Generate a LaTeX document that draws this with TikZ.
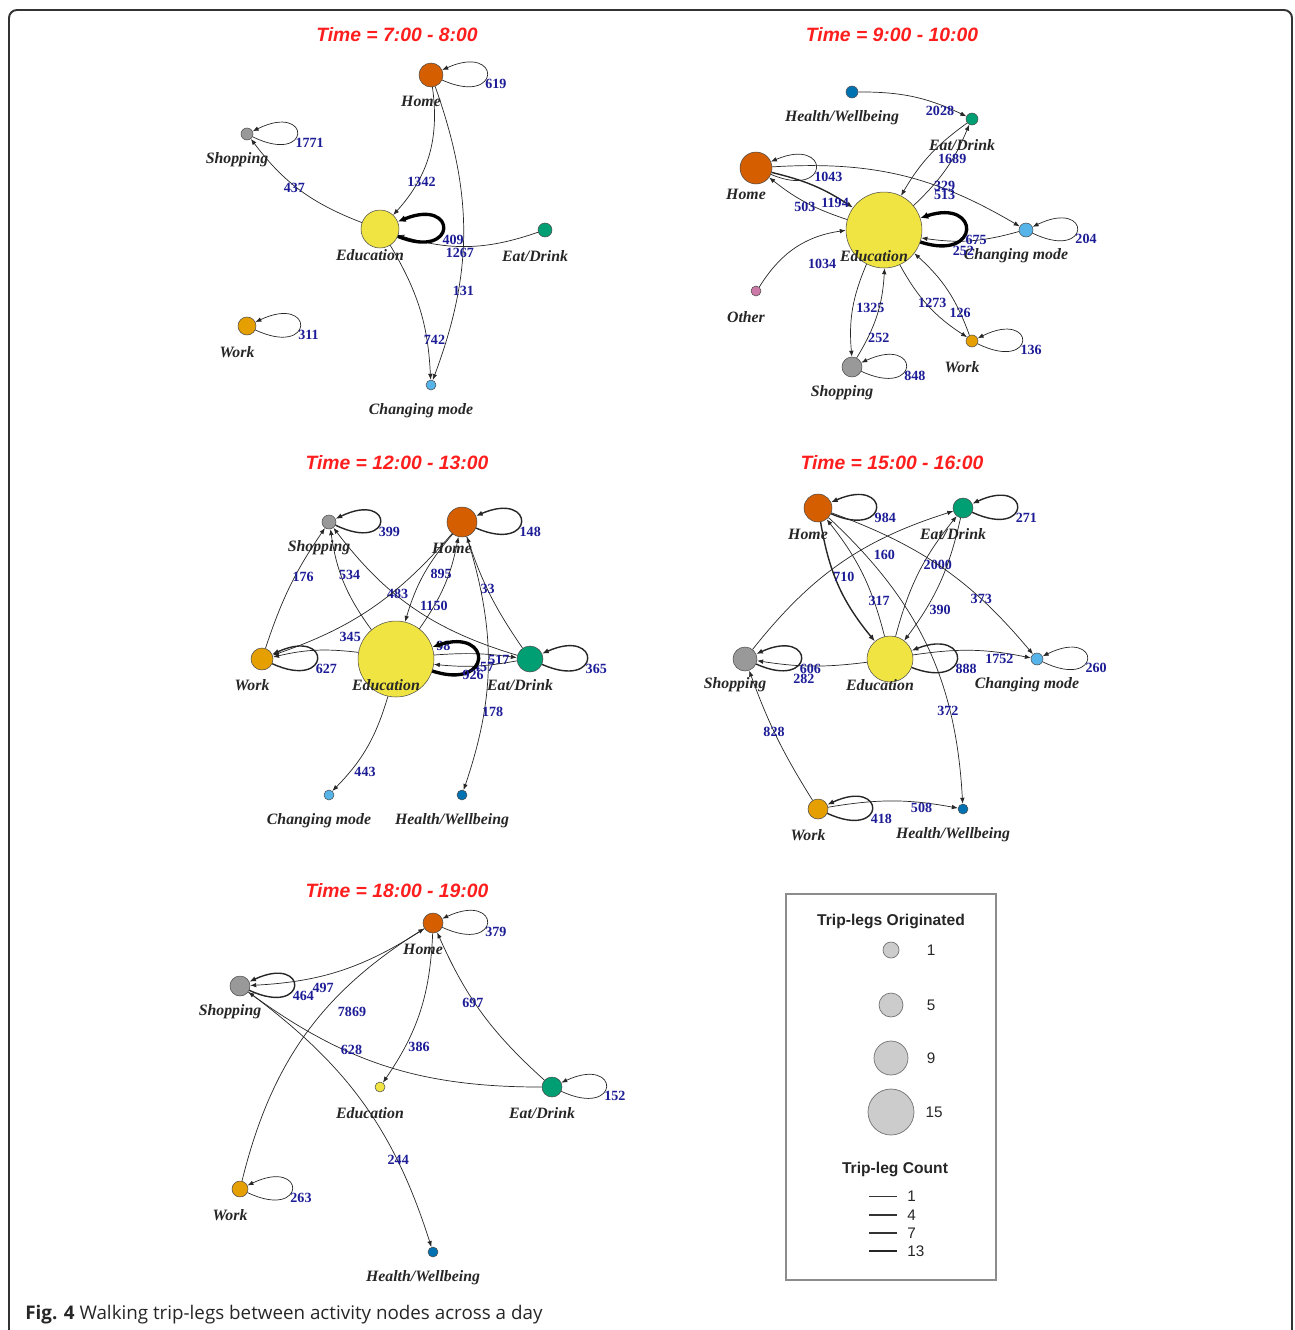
\documentclass[tikz,border=0pt]{standalone}
\usepackage{fontspec}
\usetikzlibrary{arrows.meta}
\newfontfamily\netfont{Liberation Serif}
\newfontfamily\ttlfont{Liberation Sans}
\newfontfamily\capfont{Open Sans}
\definecolor{homec}{HTML}{D55E00}
\definecolor{shopc}{HTML}{999999}
\definecolor{educ}{HTML}{F0E442}
\definecolor{eatc}{HTML}{009E73}
\definecolor{workc}{HTML}{E69F00}
\definecolor{chgc}{HTML}{56B4E9}
\definecolor{hwc}{HTML}{0072B2}
\definecolor{othc}{HTML}{CC79A7}
\definecolor{numc}{RGB}{28,28,150}
\definecolor{ttlc}{RGB}{255,30,30}
% self loop: [style]{node}{reach}{count}
\newcommand{\actloop}[4][tl]{%
  \draw[#1] (#2) .. controls +(#3,32) and +(#3,-32) .. (#2)
    node[num, pos=0.5, anchor=north west, shift={(-2,4)}] {#4};}
\begin{document}
\begin{tikzpicture}[
    x=0.02cm, y=-0.02cm,
    act/.style 2 args={circle, draw=black!70, line width=0.3pt, fill=#2, inner sep=0pt, minimum size=#1*0.04cm},
    lab/.style={font=\netfont\bfseries\itshape\fontsize{9}{10}\selectfont, text=black!85, inner sep=0pt, xshift=-0.2cm, yshift=-0.52cm},
    num/.style={font=\netfont\bfseries\fontsize{8}{9}\selectfont, text=numc, inner sep=0pt},
    ttl/.style={font=\ttlfont\bfseries\itshape\fontsize{11}{13}\selectfont, text=ttlc},
    tl/.style={draw=black!85, line width=0.4pt, -{Latex[length=3.4pt,width=2.6pt]}},
    ml/.style={draw=black!85, line width=0.8pt, -{Latex[length=3.8pt,width=3pt]}},
    kl/.style={draw=black, line width=1.9pt, -{Latex[length=4.5pt,width=4pt]}},
    lgc/.style={circle, draw=black!55, line width=0.4pt, fill=black!20, inner sep=0pt, minimum size=#1*0.04cm},
    lgt/.style={font=\ttlfont\bfseries\fontsize{8.9}{10}\selectfont, text=black!85},
    lgn/.style={font=\ttlfont\fontsize{8.7}{10}\selectfont, text=black!85, inner sep=0pt}
]
\useasboundingbox (0,0) rectangle (1295,1330);
\draw[black!80, line width=1.1pt, rounded corners=4.5pt] (9,1345) -- (9,10) -- (1292,10) -- (1292,1345);

% Time = 7:00 - 8:00
\node[ttl] (t1) at (397,35) {Time = 7:00 - 8:00};
\node[act={12}{homec}, label={[lab]center:Home}] (p1home) at (431,75) {};
\node[act={6}{shopc}, label={[lab]center:Shopping}] (p1shop) at (247,134) {};
\node[act={19}{educ}, label={[lab]center:Education}] (p1edu) at (380,229) {};
\node[act={7}{eatc}, label={[lab]center:Eat/Drink}] (p1eat) at (545,230) {};
\node[act={9}{workc}, label={[lab]center:Work}] (p1work) at (247,326) {};
\node[act={5}{chgc}, label={[lab]center:Changing mode}] (p1chg) at (431,385) {};
\draw[tl] (p1home) to[bend left=25] node[num, pos=0.65, shift={(0,8)}] {1342} (p1edu);
\draw[tl] (p1edu) to[bend left=16] node[num, pos=0.6, shift={(5,6)}] {437} (p1shop);
\draw[tl] (p1home) to[bend left=20] node[num, pos=0.7, shift={(5,1)}] {131} (p1chg);
\draw[tl] (p1edu) to[bend left=14] node[num, pos=0.72, shift={(8,2)}] {742} (p1chg);
\draw[tl] (p1eat) to[bend left=18] node[num, pos=0.55, shift={(-2,7)}] {1267} (p1edu);
\actloop{p1home}{71}{619}
\actloop{p1shop}{65}{1771}
\actloop[kl]{p1edu}{78}{409}
\actloop{p1work}{68}{311}

% Time = 9:00 - 10:00
\node[ttl] (t2) at (892,35) {Time = 9:00 - 10:00};
\node[act={6}{hwc}, label={[lab]center:Health/Wellbeing}] (p2hw) at (852,92) {};
\node[act={6}{eatc}, label={[lab]center:Eat/Drink}] (p2eat) at (972,119) {};
\node[act={16}{homec}, label={[lab]center:Home}] (p2home) at (756,168) {};
\node[act={38}{educ}, label={[lab]center:Education}] (p2edu) at (884,230) {};
\node[act={7}{chgc}, label={[lab]center:Changing mode}] (p2chg) at (1026,230) {};
\node[act={5}{othc}, label={[lab]center:Other}] (p2oth) at (756,291) {};
\node[act={6}{workc}, label={[lab]center:Work}] (p2work) at (972,341) {};
\node[act={10}{shopc}, label={[lab]center:Shopping}] (p2shop) at (852,367) {};
\draw[tl] (p2hw) to[bend left=13] node[num, pos=0.72, shift={(4,7)}] {2028} (p2eat);
\draw[tl] (p2edu) to[bend right=12] node[num, pos=0.62] {1689} (p2eat);
\draw[tl] (p2eat) to[bend right=12] (p2edu);
\draw[tl] (p2home) to[bend left=17] node[num, pos=0.68, shift={(2,-2)}] {329} node[num, pos=0.68, shift={(2,7)}] {513} (p2chg);
\draw[ml] (p2home) to[bend left=10] node[num, pos=0.78, shift={(0,6)}] {1194} (p2edu);
\draw[tl] (p2edu) to[bend left=10] node[num, pos=0.6, shift={(6,8)}] {503} (p2home);
\draw[tl] (p2chg) to[bend left=12] node[num, pos=0.58, shift={(0,10)}] {252} (p2edu);
\draw[tl] (p2oth) to[bend left=25] node[num, pos=0.6, shift={(18,21)}] {1034} (p2edu);
\draw[tl] (p2edu) to[bend right=14] node[num, pos=0.45, shift={(17,3)}] {1325} (p2shop);
\draw[tl] (p2shop) to[bend right=14] node[num, pos=0.25, shift={(10,2)}] {252} (p2edu);
\draw[tl] (p2edu) to[bend right=14] node[num, pos=0.5, shift={(4,-3)}] {1273} (p2work);
\draw[tl] (p2work) to[bend right=14] node[num, pos=0.3, shift={(3,6)}] {126} (p2edu);
\actloop{p2home}{75}{1043}
\actloop[kl]{p2edu}{97}{675}
\actloop{p2chg}{66}{204}
\actloop{p2work}{65}{136}
\actloop{p2shop}{69}{848}

% Time = 12:00 - 13:00
\node[ttl] (t3) at (397,463) {Time = 12:00 - 13:00};
\node[act={7}{shopc}, label={[lab]center:Shopping}] (p3shop) at (329,522) {};
\node[act={15}{homec}, label={[lab]center:Home}] (p3home) at (462,522) {};
\node[act={11}{workc}, label={[lab]center:Work}] (p3work) at (262,659) {};
\node[act={38}{educ}, label={[lab]center:Education}] (p3edu) at (396,659) {};
\node[act={13}{eatc}, label={[lab]center:Eat/Drink}] (p3eat) at (530,659) {};
\node[act={5}{chgc}, label={[lab]center:Changing mode}] (p3chg) at (329,795) {};
\node[act={5}{hwc}, label={[lab]center:Health/Wellbeing}] (p3hw) at (462,795) {};
\draw[tl] (p3work) to[bend left=8] node[num, pos=0.55, shift={(10,-3)}] {176} (p3shop);
\draw[tl] (p3edu) to[bend left=14] node[num, pos=0.62, shift={(10,4)}] {534} (p3shop);
\draw[tl] (p3eat) to[bend left=18] node[num, pos=0.65, shift={(9,5)}] {483} (p3shop);
\draw[tl] (p3home) to[bend left=15] (p3work);
\draw[tl] (p3edu) to[bend right=10] node[num, pos=0.15, shift={(6,-14)}] {345} (p3work);
\draw[tl] (p3home) to[bend right=12] node[num, pos=0.4, shift={(13,7)}] {895} (p3edu);
\draw[tl] (p3edu) to[bend right=12] node[num, pos=0.25] {1150} (p3home);
\draw[tl] (p3eat) to[bend left=8] node[num, pos=0.55] {33} (p3home);
\draw[tl] (p3home) to[bend left=18] node[num, pos=0.68, shift={(8,5)}] {178} (p3hw);
\draw[tl] (p3edu) to[bend left=6] node[num, pos=0.1, shift={(0,-8)}] {98} node[num, pos=0.8, shift={(0,4)}] {517} (p3eat);
\draw[tl] (p3eat) to[bend left=8] node[num, pos=0.5, shift={(8,1)}] {457} (p3edu);
\draw[tl] (p3edu) to[bend left=14] node[num, pos=0.75, shift={(13,3)}] {443} (p3chg);
\actloop[ml]{p3shop}{66}{399}
\actloop[ml]{p3home}{74}{148}
\actloop[ml]{p3work}{70}{627}
\actloop[ml]{p3eat}{72}{365}
\draw[kl] (p3edu) .. controls +(97,32) and +(97,-32) .. (p3edu)
  node[num, pos=0.5, anchor=north west, shift={(-17,10)}] {926};

% Time = 15:00 - 16:00
\node[ttl] (t4) at (892,463) {Time = 15:00 - 16:00};
\node[act={14}{homec}, label={[lab]center:Home}] (p4home) at (818,508) {};
\node[act={10}{eatc}, label={[lab]center:Eat/Drink}] (p4eat) at (963,508) {};
\node[act={12}{shopc}, label={[lab]center:Shopping}] (p4shop) at (745,659) {};
\node[act={23}{educ}, label={[lab]center:Education}] (p4edu) at (890,659) {};
\node[act={6}{chgc}, label={[lab]center:Changing mode}] (p4chg) at (1037,659) {};
\node[act={10}{workc}, label={[lab]center:Work}] (p4work) at (818,809) {};
\node[act={5}{hwc}, label={[lab]center:Health/Wellbeing}] (p4hw) at (963,809) {};
\draw[tl] (p4shop) to[bend left=17] node[num, pos=0.6, shift={(24,4)}] {160} (p4eat);
\draw[ml] (p4home) to[bend right=15] node[num, pos=0.4, shift={(10,2)}] {710} (p4edu);
\draw[tl] (p4edu) to[bend right=12] node[num, pos=0.35, shift={(9,10)}] {317} (p4home);
\draw[tl] (p4edu) to[bend left=12] node[num, pos=0.6, shift={(13,3)}] {2000} (p4eat);
\draw[tl] (p4eat) to[bend left=12] node[num, pos=0.7, shift={(12,5)}] {390} (p4edu);
\draw[tl] (p4home) to[bend left=15] node[num, pos=0.7, shift={(2,2)}] {373} (p4chg);
\draw[tl] (p4home) to[bend left=22] node[num, pos=0.7, shift={(0,7)}] {372} (p4hw);
\draw[tl] (p4edu) to[bend left=8] node[num, pos=0.55, shift={(-3,13)}] {282} (p4shop);
\draw[tl] (p4edu) to[bend left=10] node[num, pos=0.72, shift={(3,7)}] {1752} (p4chg);
\draw[tl] (p4work) to[bend left=6] node[num, pos=0.55] {828} (p4shop);
\draw[tl] (p4work) to[bend left=10] node[num, pos=0.75, shift={(-2,5)}] {508} (p4hw);
\actloop[ml]{p4home}{73}{984}
\actloop[ml]{p4eat}{69}{271}
\actloop[ml]{p4shop}{71}{606}
\actloop[ml]{p4edu}{82}{888}
\actloop{p4chg}{65}{260}
\actloop[ml]{p4work}{69}{418}

% Time = 18:00 - 19:00
\node[ttl] (t5) at (397,891) {Time = 18:00 - 19:00};
\node[act={10}{homec}, label={[lab]center:Home}] (p5home) at (433,923) {};
\node[act={10}{shopc}, label={[lab]center:Shopping}] (p5shop) at (240,986) {};
\node[act={5}{educ}, label={[lab]center:Education}] (p5edu) at (380,1087) {};
\node[act={10}{eatc}, label={[lab]center:Eat/Drink}] (p5eat) at (552,1087) {};
\node[act={8}{workc}, label={[lab]center:Work}] (p5work) at (240,1189) {};
\node[act={5}{hwc}, label={[lab]center:Health/Wellbeing}] (p5hw) at (433,1252) {};
\draw[tl] (p5home) to[bend left=15] node[num, pos=0.6, shift={(-2,13)}] {497} (p5shop);
\draw[tl] (p5work) to[bend left=22] node[num, pos=0.62, shift={(24,5)}] {7869} (p5home);
\draw[tl] (p5home) to[bend left=16] node[num, pos=0.75, shift={(14,0)}] {386} (p5edu);
\draw[tl] (p5eat) to[bend left=12] node[num, pos=0.55, shift={(-4,-3)}] {697} (p5home);
\draw[tl] (p5eat) to[bend left=18] node[num, pos=0.65, shift={(6,0)}] {628} (p5shop);
\draw[tl] (p5shop) to[bend left=18] node[num, pos=0.68, shift={(7,11)}] {244} (p5hw);
\actloop{p5home}{69}{379}
\actloop[ml]{p5shop}{69}{464}
\actloop{p5eat}{69}{152}
\actloop{p5work}{67}{263}

% Legend
\draw[black!45, line width=0.6pt] (786,894) rectangle (996,1280);
\node[lgt] (lgtop) at (891,921) {Trip-legs Originated};
\node[lgc=8] (lg1) at (891,950) {};
\node[lgc=12] (lg5) at (891,1005) {};
\node[lgc=17] (lg9) at (891,1058) {};
\node[lgc=23] (lg15) at (891,1112) {};
\node[lgn] (lg1t) at (931,950) {1};
\node[lgn] (lg5t) at (931,1005) {5};
\node[lgn] (lg9t) at (931,1058) {9};
\node[lgn] (lg15t) at (934,1112) {15};
\node[lgt] (lgbot) at (895,1169) {Trip-leg Count};
\draw[black!80, line width=0.45pt] (869,1196) -- (897,1196);
\draw[black!80, line width=0.7pt] (869,1215) -- (897,1215);
\draw[black!80, line width=1pt] (869,1233) -- (897,1233);
\draw[black!85, line width=1.5pt] (869,1251) -- (897,1251);
\node[lgn, anchor=west] (lw1) at (907,1196) {1};
\node[lgn, anchor=west] (lw4) at (907,1215) {4};
\node[lgn, anchor=west] (lw7) at (907,1233) {7};
\node[lgn, anchor=west] (lw13) at (907,1251) {13};

% Caption
\node[anchor=base west, inner sep=0pt, font=\capfont\fontsize{10.7}{12}\selectfont, text=black!85] (capt) at (25,1319)
  {\textbf{Fig. 4} Walking trip-legs between activity nodes across a day};
\end{tikzpicture}
\end{document}
